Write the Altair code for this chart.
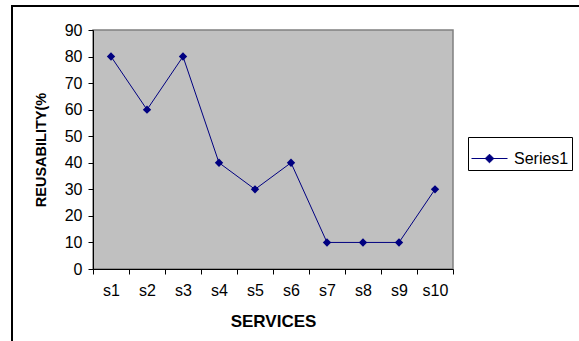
import altair as alt
import pandas as pd

services = ["s1", "s2", "s3", "s4", "s5", "s6", "s7", "s8", "s9", "s10"]
reusability = [80, 60, 80, 40, 30, 40, 10, 10, 10, 30]
series = ["Series1"] * len(services)
y_ticks = [0, 10, 20, 30, 40, 50, 60, 70, 80, 90]

df = pd.DataFrame({"service": services, "reusability": reusability, "series": series})

FONT = "Liberation Sans"
NAVY = "#000080"

x_enc = alt.X(
    "service:N",
    sort=services,
    scale=alt.Scale(paddingInner=0, paddingOuter=0),
    axis=alt.Axis(
        title="SERVICES",
        labelAngle=0,
        tickBand="extent",
        tickSize=5,
        tickColor="black",
        domainColor="black",
        labelFontSize=16,
        labelPadding=8,
        labelColor="black",
        titleFontSize=17,
        titleFontWeight="bold",
        titlePadding=15,
        titleColor="black",
        grid=False,
    ),
)
y_enc = alt.Y(
    "reusability:Q",
    scale=alt.Scale(domain=[0, 90], nice=False),
    axis=alt.Axis(
        title="REUSABILITY(%",
        values=y_ticks,
        tickSize=5,
        tickColor="black",
        domainColor="black",
        labelFontSize=16,
        labelPadding=6,
        labelColor="black",
        titleFontSize=14.5,
        titleFontWeight="bold",
        titlePadding=16,
        titleColor="black",
        grid=False,
    ),
)

base = alt.Chart(df)

line = base.mark_line(color=NAVY, strokeWidth=1).encode(x=x_enc, y=y_enc)

points = base.mark_point(shape="diamond", filled=True, size=70, opacity=1).encode(
    x=x_enc,
    y=y_enc,
    color=alt.Color(
        "series:N",
        scale=alt.Scale(domain=["Series1"], range=[NAVY]),
        legend=alt.Legend(
            title=None,
            orient="none",
            legendX=375,
            legendY=107,
            symbolType="M-1,0H1M-0.24,0L0,-0.24L0.24,0L0,0.24Z",
            symbolSize=1296,
            symbolFillColor=NAVY,
            symbolStrokeColor=NAVY,
            symbolStrokeWidth=1,
            labelFontSize=16,
            labelColor="black",
            labelOffset=6,
            padding=3,
            strokeColor="black",
            fillColor="white",
        ),
    ),
)

frame = alt.Chart(pd.DataFrame({"a": [0]})).mark_rect(
    stroke="black", strokeWidth=2, fillOpacity=0
).encode(
    x=alt.value(-81), x2=alt.value(700), y=alt.value(-24), y2=alt.value(400)
)

chart = (
    alt.layer(frame, line, points)
    .properties(
        width=360,
        height=239,
        padding={"left": 93, "top": 30, "right": 126, "bottom": 72},
        autosize=alt.AutoSizeParams(type="none"),
        background="white",
        view=alt.ViewBackground(fill="#C0C0C0", stroke="#808080", strokeWidth=1.5),
    )
    .configure(font=FONT)
)

chart.save("out.html", embed_options={"renderer": "svg", "actions": False})
